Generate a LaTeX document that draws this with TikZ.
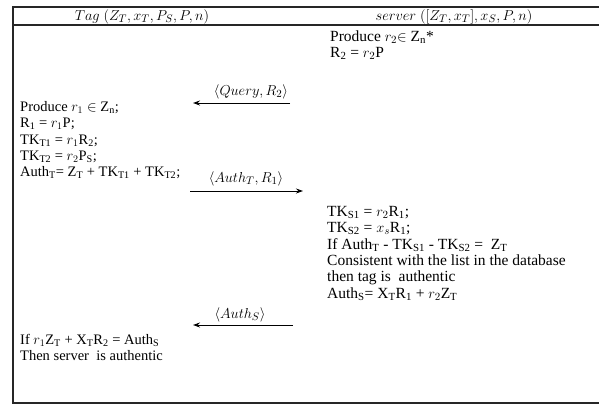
\documentclass[tikz,border=0pt]{standalone}
\usepackage{fontspec}
\setmainfont{Liberation Serif}
\usetikzlibrary{arrows.meta}
\tikzset{
  frame/.style={line width=1.3pt, draw=black!85},
  txt/.style={anchor=base west, inner sep=0pt, font=\fontsize{15.5}{16}\selectfont},
  ttxt/.style={anchor=base west, inner sep=0pt, font=\fontsize{14.5}{16}\selectfont},
  hdr/.style={anchor=base, inner sep=0pt, font=\fontsize{15.5}{16}\selectfont},
  lbl/.style={anchor=base, inner sep=0pt, font=\fontsize{15}{16}\selectfont},
  msg/.style={line width=1pt, -{Stealth[length=7pt,width=5pt]}}
}
\newcommand{\sub}[1]{\textsubscript{#1}}
\begin{document}
\begin{tikzpicture}[x=1pt,y=-1pt]
\useasboundingbox (0,0) rectangle (599,405);
% frame
\draw[frame] (599,7) -- (13,7) -- (13,403) -- (599,403);
\draw[frame] (13,25) -- (599,25);
% headers
\node[hdr] (htag) at (142,20) {$Tag\ (Z_T, x_T, P_S, P, n)$};
\node[hdr] (hsrv) at (454,20) {$server\ ([Z_T, x_T], x_S, P, n)$};
% server block 1
\node[txt] (s1) at (330,41) {Produce $r_2$$\in$ Z\sub{n}*};
\node[txt] (s2) at (330,57) {R\sub{2} = $r_2$P};
% query message
\coordinate (q1) at (290,103);
\coordinate (q2) at (193,103);
\draw[msg] (q1) -- (q2);
\node[lbl] (ql) at (251,95) {$\langle Query, R_2\rangle$};
% tag block
\node[ttxt] (t1) at (20,111) {Produce $r_1\in$ Z\sub{n};};
\node[ttxt] (t2) at (20,127.5) {R\sub{1} = $r_1$P;};
\node[ttxt] (t3) at (20,144) {TK\sub{T1} = $r_1$R\sub{2};};
\node[ttxt] (t4) at (20,160) {TK\sub{T2} = $r_2$P\sub{S};};
\node[ttxt] (t5) at (20,176) {Auth\sub{T}= Z\sub{T} + TK\sub{T1} + TK\sub{T2};};
% authT message
\coordinate (a1) at (190,191);
\coordinate (a2) at (303,191);
\draw[msg] (a1) -- (a2);
\node[lbl] (al) at (246,182) {$\langle Auth_T, R_1\rangle$};
% server block 2
\node[txt] (u1) at (327,216) {TK\sub{S1} = $r_2$R\sub{1};};
\node[txt] (u2) at (327,232.5) {TK\sub{S2} = $x_s$R\sub{1};};
\node[txt] (u3) at (327,249) {If Auth\sub{T} - TK\sub{S1} - TK\sub{S2} =\ \ Z\sub{T}};
\node[txt] (u4) at (327,265) {Consistent with the list in the database};
\node[txt] (u5) at (327,281.5) {then tag is\ \ authentic};
\node[txt] (u6) at (327,298) {Auth\sub{S}= X\sub{T}R\sub{1} + $r_2$Z\sub{T}};
% authS message
\coordinate (b1) at (293,325);
\coordinate (b2) at (193,325);
\draw[msg] (b1) -- (b2);
\node[lbl] (bl) at (240,318) {$\langle Auth_S\rangle$};
% tag final
\node[ttxt] (v1) at (20,344) {If $r_1$Z\sub{T} + X\sub{T}R\sub{2} = Auth\sub{S}};
\node[ttxt] (v2) at (20,360) {Then server\ \ is authentic};
\end{tikzpicture}
\end{document}
